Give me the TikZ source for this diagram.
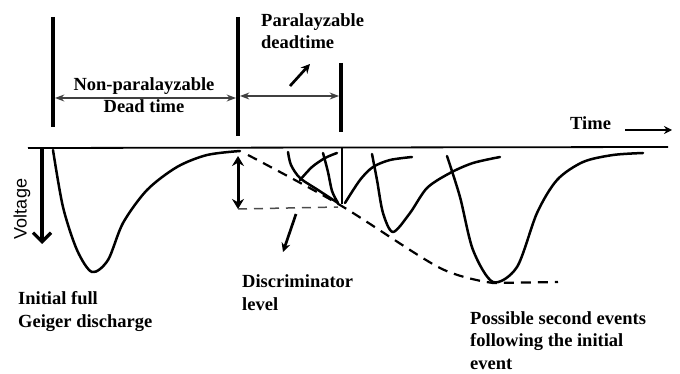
\documentclass[tikz,border=0pt]{standalone}
\usepackage{fontspec}
\setmainfont{Liberation Serif}
\setsansfont{Liberation Sans}
\usetikzlibrary{arrows.meta, positioning}

\begin{document}
\begin{tikzpicture}[x=1pt, y=-1pt, >=Stealth,
  bar/.style={line width=3.5pt},
  pulse/.style={line width=2.5pt, line cap=round, line join=round},
  envelope/.style={line width=2.2pt, dash pattern=on 10pt off 7pt},
  span/.style={<->, line width=1.4pt, draw=black!75},
  lbl/.style={font=\bfseries\fontsize{18.5}{22.5}\selectfont, align=left, inner sep=0pt}]
  \useasboundingbox (0,0) rectangle (680,374);

  % dead-time markers
  \coordinate (b1top) at (53,17);
  \coordinate (b1bot) at (53,127);
  \coordinate (b2top) at (238,17);
  \coordinate (b2bot) at (238,136);
  \coordinate (b3top) at (341,63);
  \coordinate (b3bot) at (341,132);
  \draw[bar] (b1top) -- (b1bot);
  \draw[bar] (b2top) -- (b2bot);
  \draw[bar] (b3top) -- (b3bot);

  \coordinate (n1) at (55,98);
  \coordinate (n2) at (236,98);
  \coordinate (p1) at (240,96);
  \coordinate (p2) at (339,96);
  \draw[span] (n1) -- (n2);
  \draw[span] (p1) -- (p2);

  % labels sit on the baseline of their last line
  \node[lbl, align=center, anchor=base] (nonpara) at (144,113) {Non-paralayzable\\Dead time};
  \node[lbl, anchor=base west] (para) at (261,49) {Paralayzable\\deadtime};
  \coordinate (pa1) at (290,86);
  \coordinate (pa2) at (310,64);
  \draw[-{Stealth[length=9pt, width=9pt]}, line width=2.7pt] (pa1) -- (pa2);

  % time axis
  \coordinate (t0) at (28,148);
  \coordinate (t1) at (668,147);
  \draw[line width=1.8pt] (t0) -- (t1);
  \node[lbl, anchor=base west] (timelbl) at (570,130) {Time};
  \coordinate (ta1) at (625,130);
  \coordinate (ta2) at (672,130);
  \draw[-{Stealth[length=8pt, width=8pt]}, line width=1.8pt] (ta1) -- (ta2);

  % voltage axis
  \coordinate (v0) at (42,148);
  \coordinate (v1) at (42,244);
  \draw[-{Straight Barb[length=9pt, width=18pt]}, line width=3.2pt] (v0) -- (v1);
  \node[font=\sffamily\fontsize{18}{20}\selectfont, rotate=90, inner sep=0pt] (voltlbl) at (22,209) {Voltage};

  % initial discharge
  \draw[pulse] plot[smooth] coordinates {(53,150) (63,207) (77,250) (92,272) (108,260) (123,223) (147,190) (177,167) (207,155) (240,151)};

  % discriminator
  \coordinate (d1) at (238,156);
  \coordinate (d2) at (238,209);
  \coordinate (d3) at (338,207);
  \draw[<->, line width=3pt, >={Stealth[length=10pt, width=12pt]}] (d1) -- (d2);
  \draw[line width=1.5pt, draw=black!70, dash pattern=on 9pt off 7pt] (d2) -- (d3);
  \coordinate (da1) at (296,214);
  \coordinate (da2) at (283,252);
  \draw[-{Stealth[length=9pt, width=9pt]}, line width=2.7pt] (da1) -- (da2);
  \node[lbl, anchor=base west] (disc) at (242,310) {Discriminator\\level};

  % second events
  \draw[pulse] plot[smooth] coordinates {(288,152) (291,165) (300,178) (318,190) (338,203)};
  \draw[pulse] plot[smooth] coordinates {(300,180) (312,167) (325,158) (337,153)};
  \draw[pulse] plot[smooth] coordinates {(323,153) (328,172) (332,191) (338,203)};
  \draw[line width=1.2pt] (342,148) -- (342,204);
  \draw[pulse] plot[smooth] coordinates {(345,203) (360,180) (373,167) (390,160) (412,157)};
  \draw[pulse] plot[smooth] coordinates {(372,154) (377,180) (383,213) (393,232) (410,213) (427,188) (450,173) (473,163) (500,157)};
  \draw[pulse] plot[smooth] coordinates {(447,156) (460,197) (473,250) (493,282) (517,267) (537,213) (557,180) (583,162) (613,155) (643,153)};

  % envelope
  \draw[envelope] plot[smooth] coordinates {(248,155) (340,205) (440,268) (493,283)} -- (558,282);

  \node[lbl, anchor=base west] (initial) at (18,327) {Initial full\\Geiger discharge};
  \node[lbl, anchor=base west] (second) at (470,369) {Possible second events\\following the initial\\event};
\end{tikzpicture}
\end{document}
